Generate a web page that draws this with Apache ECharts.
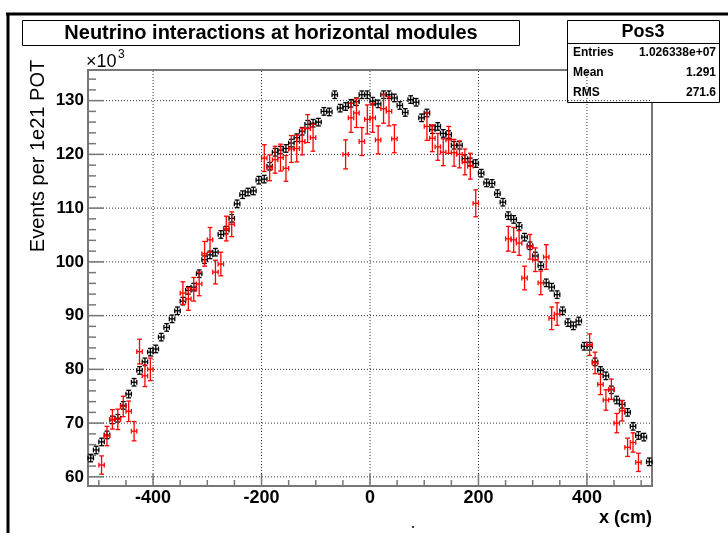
<!DOCTYPE html>
<html><head><meta charset="utf-8">
<script src="https://cdn.jsdelivr.net/npm/echarts@6/dist/echarts.min.js"></script>
<style>html,body{margin:0;padding:0;background:#fff}#c{width:728px;height:533px}</style>
</head><body><div id="c"></div>
<script>
// ---- data ----
const binCenters = [-515,-505,-495,-485,-475,-465,-455,-445,-435,-425,-415,-405,-395,-385,-375,-365,-355,-345,-335,-325,
  -315,-305,-295,-285,-275,-265,-255,-245,-235,-225,-215,-205,-195,-185,-175,-165,-155,-145,-135,-125,
  -115,-105,-95,-85,-75,-65,-55,-45,-35,-25,-15,-5,5,15,25,35,45,55,65,75,
  85,95,105,115,125,135,145,155,165,175,185,195,205,215,225,235,245,255,265,275,
  285,295,305,315,325,335,345,355,365,375,385,395,405,415,425,435,445,455,465,475,485,495,505,515];
const blackCounts = [63.5,65.0,66.5,67.8,70.6,70.9,73.3,75.4,77.6,79.8,
  81.4,83.2,83.8,86.0,87.8,89.4,90.9,92.7,94.7,95.3,
  97.8,100.4,101.3,101.8,105.1,105.9,108.1,110.8,112.5,113.0,
  113.2,115.2,115.4,117.8,120.4,120.8,121.1,122.1,123.1,124.3,
  125.6,125.8,126.0,128.0,127.9,131.1,128.6,128.9,129.5,129.8,
  131.1,131.1,129.9,129.4,131.1,131.1,130.5,129.1,127.8,130.2,
  129.7,126.8,127.7,124.6,125.2,123.9,123.7,121.7,121.7,119.2,
  118.6,118.3,116.5,114.7,114.6,112.7,111.1,108.6,107.9,106.6,
  104.6,103.0,101.1,99.3,96.1,95.3,93.9,90.9,88.7,88.1,
  89.0,84.3,84.3,81.4,79.8,78.8,76.2,74.3,73.5,72.0,
  69.4,67.7,67.4,62.8];
const blackErr = 0.7;
const binHalfWidth = 5;

const redCenters = [-495,-485,-475,-465,-455,-445,-435,-425,-415,-405,
  -345,-335,-325,-315,-305,-295,-285,-275,-265,-255,
  -195,-185,-175,-165,-155,-145,-135,-125,-115,-105,
  -45,-35,-25,-15,-5,5,15,25,35,45,
  105,115,125,135,145,155,165,175,185,195,
  255,265,275,285,295,305,315,325,335,345,
  405,415,425,435,445,455,465,475,485,495];
const redCounts = [62.2,67.6,70.7,70.7,73.1,72.2,68.5,83.3,78.8,80.0,
  94.2,93.1,94.9,95.9,101.5,104.1,98.1,99.6,106.2,107.0,
  119.3,117.5,119.0,119.4,117.4,121.0,121.1,122.4,124.8,123.1,
  120.0,126.8,127.7,122.4,126.5,126.8,122.7,128.5,128.0,122.9,
  125.2,123.0,121.4,120.4,122.7,120.3,120.0,118.6,117.8,110.9,
  104.3,104.1,103.5,97.0,102.8,100.4,96.1,100.9,89.5,90.3,
  84.6,81.2,77.2,74.3,76.3,70.0,72.3,65.5,66.4,62.7];
const redErrors = [1.7,1.8,1.8,1.9,1.9,1.9,1.8,2.3,2.0,2.1,
  2.1,2.1,2.2,2.2,2.3,2.3,2.2,2.2,2.3,2.3,
  2.5,2.4,2.5,2.5,2.4,2.5,2.5,2.5,2.6,2.5,
  2.7,2.7,2.7,2.6,2.7,2.7,2.6,2.7,2.7,2.6,
  2.6,2.5,2.5,2.5,2.5,2.5,2.5,2.4,2.4,2.5,
  2.3,2.3,2.3,2.2,2.3,2.2,2.2,2.3,2.1,2.1,
  2.0,2.0,1.9,1.9,1.9,1.8,1.9,1.7,1.8,1.7];

const xMajorTicks = [-400,-200,0,200,400];
const xMinorTicks = [-500,-450,-350,-300,-250,-150,-100,-50,50,100,150,250,300,350,450,500];
const yMajorTicks = [60,70,80,90,100,110,120,130];
const yMinorTicks = [62,64,66,68,72,74,76,78,82,84,86,88,92,94,96,98,102,104,106,108,112,114,116,118,122,124,126,128,132,134];
const xRange = [-520, 520];
const yRange = [58.3, 135.7];

const titleText = 'Neutrino interactions at horizontal modules';
const statsName = 'Pos3';
const statsRows = [['Entries','1.026338e+07'],['Mean','1.291'],['RMS','271.6']];

// ---- chart ----
const FONT = "'Liberation Sans', Arial, Helvetica, sans-serif";
const chart = echarts.init(document.getElementById('c'), null, {renderer:'canvas'});

function errRender(color, lw){
  return function(params, api){
    const x = api.value(0), y = api.value(1), e = api.value(2), w = api.value(3);
    const c = api.coord([x,y]), l = api.coord([x-w,y]), r = api.coord([x+w,y]);
    const t = api.coord([x,y+e]), b = api.coord([x,y-e]);
    const cap = 2.4;
    const st = {stroke: color, lineWidth: lw};
    return {type:'group', children:[
      {type:'line', shape:{x1:l[0],y1:c[1],x2:r[0],y2:c[1]}, style:st},
      {type:'line', shape:{x1:c[0],y1:t[1],x2:c[0],y2:b[1]}, style:st},
      {type:'line', shape:{x1:l[0],y1:c[1]-cap,x2:l[0],y2:c[1]+cap}, style:st},
      {type:'line', shape:{x1:r[0],y1:c[1]-cap,x2:r[0],y2:c[1]+cap}, style:st},
      {type:'line', shape:{x1:c[0]-cap,y1:t[1],x2:c[0]+cap,y2:t[1]}, style:st},
      {type:'line', shape:{x1:c[0]-cap,y1:b[1],x2:c[0]+cap,y2:b[1]}, style:st}
    ]};
  };
}

const gridLineStyle = {stroke:'#333', lineWidth:1, lineDash:[1,2]};
const tickStyle = {stroke:'#777', lineWidth:1.5};

const option = {
  animation: false,
  backgroundColor: '#fff',
  grid: {left: 88, top: 70, width: 564, height: 416, show: true, borderColor: '#777', borderWidth: 2, backgroundColor: 'transparent', outerBoundsMode: 'none', containLabel: false},
  xAxis: {type:'value', min: xRange[0], max: xRange[1], axisLine:{show:false}, axisTick:{show:false}, axisLabel:{show:false}, splitLine:{show:false}},
  yAxis: {type:'value', min: yRange[0], max: yRange[1], axisLine:{show:false}, axisTick:{show:false}, axisLabel:{show:false}, splitLine:{show:false}},
  series: [
    {type:'custom', silent:true, clip:false, z:1, data: xMajorTicks.map(v=>[v, yRange[0]]),
     renderItem:(p,api)=>{const a=api.coord([api.value(0), yRange[0]]), b=api.coord([api.value(0), yRange[1]]);
       return {type:'line', shape:{x1:a[0],y1:a[1],x2:b[0],y2:b[1]}, style:gridLineStyle};}},
    {type:'custom', silent:true, clip:false, z:1, data: yMajorTicks.map(v=>[xRange[0], v]),
     renderItem:(p,api)=>{const a=api.coord([xRange[0], api.value(1)]), b=api.coord([xRange[1], api.value(1)]);
       return {type:'line', shape:{x1:a[0],y1:a[1],x2:b[0],y2:b[1]}, style:gridLineStyle};}},
    {type:'custom', silent:true, clip:false, z:3, data: xMajorTicks.map(v=>[v, yRange[0]]),
     renderItem:(p,api)=>{const a=api.coord([api.value(0), yRange[0]]);
       return {type:'group', children:[
         {type:'line', shape:{x1:a[0],y1:a[1],x2:a[0],y2:a[1]-12}, style:tickStyle},
         {type:'text', style:{text:String(api.value(0)), x:a[0], y:a[1]+3, textAlign:'center', textVerticalAlign:'top', font:'bold 18px '+FONT, fill:'#000'}}
       ]};}},
    {type:'custom', silent:true, clip:false, z:3, data: xMinorTicks.map(v=>[v, yRange[0]]),
     renderItem:(p,api)=>{const a=api.coord([api.value(0), yRange[0]]);
       return {type:'line', shape:{x1:a[0],y1:a[1],x2:a[0],y2:a[1]-6}, style:tickStyle};}},
    {type:'custom', silent:true, clip:false, z:3, data: yMajorTicks.map(v=>[xRange[0], v]),
     renderItem:(p,api)=>{const a=api.coord([xRange[0], api.value(1)]);
       return {type:'group', children:[
         {type:'line', shape:{x1:a[0],y1:a[1],x2:a[0]+16,y2:a[1]}, style:tickStyle},
         {type:'text', style:{text:String(api.value(1)), x:a[0]-4, y:a[1], textAlign:'right', textVerticalAlign:'middle', font:'bold 17px '+FONT, fill:'#000'}}
       ]};}},
    {type:'custom', silent:true, clip:false, z:3, data: yMinorTicks.map(v=>[xRange[0], v]),
     renderItem:(p,api)=>{const a=api.coord([xRange[0], api.value(1)]);
       return {type:'line', shape:{x1:a[0],y1:a[1],x2:a[0]+8,y2:a[1]}, style:tickStyle};}},
    {type:'custom', name:'Pos3', silent:true, clip:false, z:5,
     data: binCenters.map((x,i)=>[x, blackCounts[i], blackErr, binHalfWidth]),
     renderItem: errRender('#000', 1.3)},
    {type:'custom', name:'red', silent:true, clip:false, z:6,
     data: redCenters.map((x,i)=>[x, redCounts[i], redErrors[i], binHalfWidth]),
     renderItem: errRender('#ff0000', 1.3)}
  ],
  graphic: [
    {type:'line', shape:{x1:6, y1:14, x2:728, y2:14}, style:{stroke:'#000', lineWidth:3}},
    {type:'line', shape:{x1:8, y1:13, x2:8, y2:533}, style:{stroke:'#000', lineWidth:3}},
    {type:'rect', shape:{x:22.5, y:20.5, width:497, height:25}, style:{fill:'#fff', stroke:'#000', lineWidth:1}},
    {type:'text', style:{text:titleText, x:271, y:33.5, textAlign:'center', textVerticalAlign:'middle', font:'bold 20px '+FONT, fill:'#000'}},
    {type:'rect', shape:{x:567.5, y:20.5, width:152, height:82}, style:{fill:'#fff', stroke:'#000', lineWidth:1}},
    {type:'line', shape:{x1:567.5, y1:43.5, x2:719.5, y2:43.5}, style:{stroke:'#000', lineWidth:1}},
    {type:'text', style:{text:statsName, x:643, y:32.5, textAlign:'center', textVerticalAlign:'middle', font:'bold 18px '+FONT, fill:'#000'}},
    {type:'text', style:{text:statsRows[0][0], x:573, y:53, textAlign:'left', textVerticalAlign:'middle', font:'bold 12px '+FONT, fill:'#000'}},
    {type:'text', style:{text:statsRows[0][1], x:716, y:53, textAlign:'right', textVerticalAlign:'middle', font:'bold 12px '+FONT, fill:'#000'}},
    {type:'text', style:{text:statsRows[1][0], x:573, y:73, textAlign:'left', textVerticalAlign:'middle', font:'bold 12px '+FONT, fill:'#000'}},
    {type:'text', style:{text:statsRows[1][1], x:716, y:73, textAlign:'right', textVerticalAlign:'middle', font:'bold 12px '+FONT, fill:'#000'}},
    {type:'text', style:{text:statsRows[2][0], x:573, y:93, textAlign:'left', textVerticalAlign:'middle', font:'bold 12px '+FONT, fill:'#000'}},
    {type:'text', style:{text:statsRows[2][1], x:716, y:93, textAlign:'right', textVerticalAlign:'middle', font:'bold 12px '+FONT, fill:'#000'}},
    {type:'text', style:{text:'×10', x:86, y:62, textAlign:'left', textVerticalAlign:'middle', font:'18px '+FONT, fill:'#000'}},
    {type:'text', style:{text:'3', x:118, y:55, textAlign:'left', textVerticalAlign:'middle', font:'12px '+FONT, fill:'#000'}},
    {type:'text', rotation: Math.PI/2, x:38, y:156, style:{text:'Events per 1e21 POT', x:0, y:0, textAlign:'center', textVerticalAlign:'middle', font:'20px '+FONT, fill:'#000'}},
    {type:'text', style:{text:'x (cm)', x:652, y:518, textAlign:'right', textVerticalAlign:'middle', font:'bold 18px '+FONT, fill:'#000'}},
    {type:'circle', shape:{cx:413, cy:527, r:1}, style:{fill:'#000'}}
  ]
};
chart.setOption(option);
</script>
</body></html>
